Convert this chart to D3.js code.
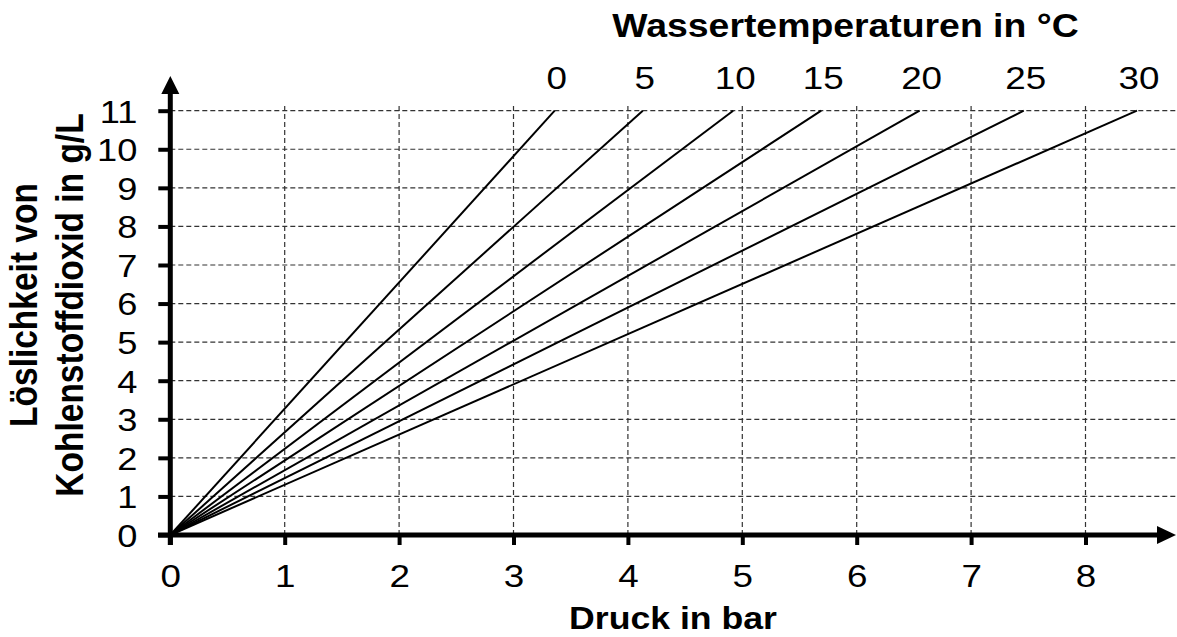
<!DOCTYPE html>
<html><head><meta charset="utf-8">
<script src="https://cdn.jsdelivr.net/npm/d3@7"></script>
<style>body{margin:0;background:#fff} text{font-family:"Liberation Sans",Arial,sans-serif;fill:#000}</style>
</head><body><svg id="c" width="1177" height="637"></svg>
<script>
const temperatures = [0, 5, 10, 15, 20, 25, 30];
const pressureAtMax = [3.36, 4.13, 4.92, 5.69, 6.55, 7.46, 8.45];
const solubilityMax = 11;
const xTicks = [0, 1, 2, 3, 4, 5, 6, 7, 8];
const yTicks = [0, 1, 2, 3, 4, 5, 6, 7, 8, 9, 10, 11];
const titleText = "Wassertemperaturen in °C";
const xLabelText = "Druck in bar";
const yLabelLines = ["Löslichkeit von", "Kohlenstoffdioxid in g/L"];

const SX = 1.15;
const svg = d3.select("#c");
svg.append("rect").attr("width",1177).attr("height",637).attr("fill","#fff");
const x = d3.scaleLinear().domain([0, 8]).range([170.3, 1085.5]);
const y = d3.scaleLinear().domain([0, 11]).range([535, 110.7]);

// grid
svg.append("g").selectAll("line").data(yTicks.slice(1)).join("line")
  .attr("x1", x(0)).attr("x2", 1177).attr("y1", d => y(d)).attr("y2", d => y(d))
  .attr("stroke", "#333").attr("stroke-width", 1.2).attr("stroke-dasharray", "5,3");
svg.append("g").selectAll("line").data(xTicks.slice(1)).join("line")
  .attr("x1", d => x(d)).attr("x2", d => x(d)).attr("y1", y(0)).attr("y2", 103)
  .attr("stroke", "#333").attr("stroke-width", 1.2).attr("stroke-dasharray", "5,3");

// series lines
const series = temperatures.map((t, i) => ({ t, pts: [[0, 0], [pressureAtMax[i], solubilityMax]] }));
const line = d3.line().x(d => x(d[0])).y(d => y(d[1]));
svg.append("g").selectAll("path").data(series).join("path")
  .attr("d", d => line(d.pts)).attr("fill", "none").attr("stroke", "#000").attr("stroke-width", 2);

// temperature labels
svg.append("g").selectAll("text").data(series).join("text")
  .attr("transform", d => `translate(${x(d.pts[1][0]) + 2},89) scale(${SX},1)`)
  .attr("text-anchor", "middle").attr("font-size", 32).text(d => d.t);

// x axis
const gx = svg.append("g").attr("transform", `translate(0,${y(0)})`)
  .call(d3.axisBottom(x).tickValues(xTicks).tickSize(10).tickFormat(d3.format("d")));
gx.select(".domain").remove();
gx.selectAll(".tick line").attr("stroke", "#000").attr("stroke-width", 4);
gx.selectAll(".tick text").attr("y", 52).attr("dy", 0).attr("font-size", 32)
  .attr("transform", `scale(${SX},1)`).attr("fill", "#000");

// y axis
const gy = svg.append("g").attr("transform", `translate(${x(0)},0)`)
  .call(d3.axisLeft(y).tickValues(yTicks).tickSize(12).tickFormat(d3.format("d")));
gy.select(".domain").remove();
gy.selectAll(".tick line").attr("stroke", "#000").attr("stroke-width", 4);
gy.selectAll(".tick text").attr("x", -33 / SX).attr("dy", "0.36em").attr("font-size", 31.5)
  .attr("transform", `scale(${SX},1)`).attr("fill", "#000");

// axis lines with arrows
svg.append("line").attr("x1", 158).attr("x2", 1160).attr("y1", y(0)).attr("y2", y(0))
  .attr("stroke", "#000").attr("stroke-width", 5);
svg.append("path").attr("d", `M1157,${y(0)-9}L1176,${y(0)}L1157,${y(0)+9}Z`).attr("fill", "#000");
svg.append("line").attr("x1", x(0)).attr("x2", x(0)).attr("y1", 545).attr("y2", 90)
  .attr("stroke", "#000").attr("stroke-width", 5);
svg.append("path").attr("d", `M${x(0)-9},94L${x(0)},76L${x(0)+9},94Z`).attr("fill", "#000");

// titles
svg.append("text").attr("transform", `translate(845.5,37) scale(${SX},1)`)
  .attr("text-anchor", "middle").attr("font-size", 32.5).attr("font-weight", "bold").text(titleText);
svg.append("text").attr("transform", `translate(673,629) scale(${SX},1)`)
  .attr("text-anchor", "middle").attr("font-size", 31).attr("font-weight", "bold").text(xLabelText);
svg.append("g").selectAll("text").data(yLabelLines).join("text")
  .attr("transform", (d, i) => `translate(${i === 0 ? 37 : 83},305) rotate(-90) scale(1,${SX})`)
  .attr("text-anchor", "middle").attr("font-size", 33.5).attr("font-weight", "bold").text(d => d);
</script></body></html>
